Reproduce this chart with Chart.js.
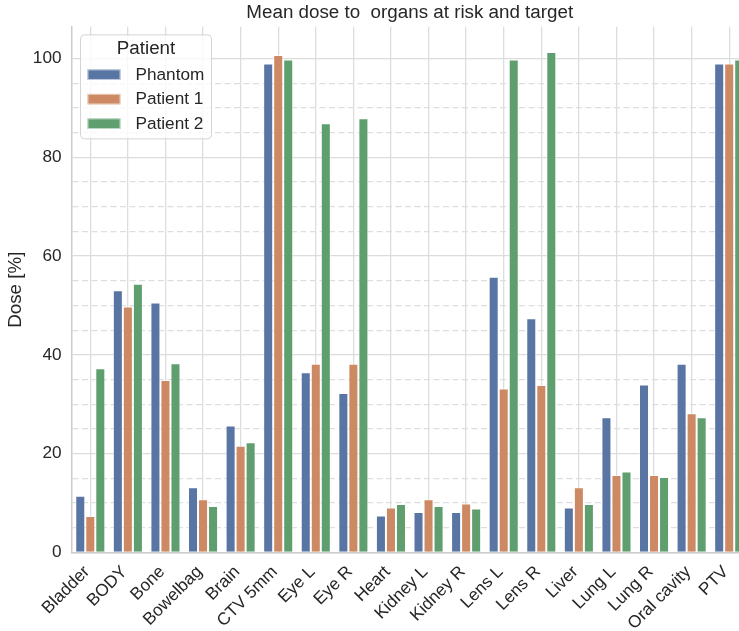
<!DOCTYPE html>
<html>
<head>
<meta charset="utf-8">
<title>Mean dose to organs at risk and target</title>
<script src="https://cdn.jsdelivr.net/npm/chart.js@4.4.1/dist/chart.umd.min.js"></script>
<style>
  html, body { margin: 0; padding: 0; background: #ffffff; overflow: hidden; }
  #wrap { width: 739px; height: 631px; overflow: hidden; position: relative; }
  canvas { display: block; }
</style>
</head>
<body>
<div id="wrap"><canvas id="doseChart" width="760" height="631"></canvas></div>
<script>
// Structures (x categories)
const categories = ['Bladder', 'BODY', 'Bone', 'Bowelbag', 'Brain', 'CTV 5mm', 'Eye L', 'Eye R',
  'Heart', 'Kidney L', 'Kidney R', 'Lens L', 'Lens R', 'Liver', 'Lung L', 'Lung R', 'Oral cavity', 'PTV'];

// Mean dose per structure, % of prescription
const phantom  = [11.5, 53.1, 50.6, 13.2, 25.7, 99.0, 36.5, 32.3, 7.5, 8.2, 8.2, 55.8, 47.4, 9.1, 27.4, 34.0, 38.2, 99.0];
const patient1 = [7.4, 49.8, 34.9, 10.8, 21.6, 100.7, 38.2, 38.2, 9.1, 10.8, 9.9, 33.2, 33.9, 13.2, 15.7, 15.7, 28.2, 99.0];
const patient2 = [37.3, 54.4, 38.3, 9.4, 22.3, 99.8, 86.9, 87.9, 9.8, 9.4, 8.9, 99.8, 101.3, 9.8, 16.4, 15.3, 27.4, 99.8];

const seriesNames = ['Phantom', 'Patient 1', 'Patient 2'];
const seriesColors = ['#5975a4', '#cc8963', '#5f9e6e'];
const legendTitle = 'Patient';

// Labelled y ticks every 20, light dashed helper lines every 5
const yLabelStep = 20;
const yGridStep = 5;
const yMax = 106.4;

const FONT = '"Liberation Sans", Arial, Helvetica, sans-serif';
const TEXT = '#262626';
const TICK_SIZE = 17.2;
const LABEL_SIZE = 18.8;

// Framed legend drawn inside the plot area, upper left
const boxLegend = {
  id: 'boxLegend',
  afterDatasetsDraw(chart) {
    const { ctx, chartArea } = chart;
    const x = chartArea.left + 9, y = chartArea.top + 8, w = 131, h = 104, r = 4;
    ctx.save();
    ctx.beginPath();
    ctx.moveTo(x + r, y);
    ctx.lineTo(x + w - r, y);
    ctx.arcTo(x + w, y, x + w, y + r, r);
    ctx.lineTo(x + w, y + h - r);
    ctx.arcTo(x + w, y + h, x + w - r, y + h, r);
    ctx.lineTo(x + r, y + h);
    ctx.arcTo(x, y + h, x, y + h - r, r);
    ctx.lineTo(x, y + r);
    ctx.arcTo(x, y, x + r, y, r);
    ctx.closePath();
    ctx.fillStyle = 'rgba(255,255,255,0.8)';
    ctx.fill();
    ctx.strokeStyle = '#d4d4d4';
    ctx.lineWidth = 1;
    ctx.stroke();

    ctx.fillStyle = TEXT;
    ctx.font = LABEL_SIZE + 'px ' + FONT;
    ctx.textAlign = 'center';
    ctx.textBaseline = 'middle';
    ctx.fillText(legendTitle, x + w / 2, y + 14);

    ctx.font = TICK_SIZE + 'px ' + FONT;
    ctx.textAlign = 'left';
    chart.data.datasets.forEach((ds, i) => {
      const cy = y + 39.8 + i * 24.5;
      ctx.fillStyle = ds.backgroundColor;
      ctx.fillRect(x + 7, cy - 5.3, 33, 10.6);
      ctx.strokeStyle = 'rgba(255,255,255,0.6)';
      ctx.strokeRect(x + 7.5, cy - 4.8, 32, 9.6);
      ctx.fillStyle = TEXT;
      ctx.fillText(ds.label, x + 55, cy + 0.5);
    });
    ctx.restore();
  }
};

const seriesValues = [phantom, patient1, patient2];

new Chart(document.getElementById('doseChart'), {
  type: 'bar',
  data: {
    labels: categories,
    datasets: seriesNames.map((name, i) => ({
      label: name,
      data: seriesValues[i],
      backgroundColor: seriesColors[i],
      borderColor: 'rgba(255,255,255,0.55)',
      borderWidth: 1,
      categoryPercentage: 0.8,
      barPercentage: 1.0
    }))
  },
  options: {
    responsive: false,
    animation: false,
    devicePixelRatio: 1,
    layout: { padding: { top: 0, right: 12, left: 0, bottom: 0 } },
    plugins: {
      legend: { display: false },
      tooltip: { enabled: false },
      title: {
        display: true,
        fullSize: false,
        text: 'Mean dose to  organs at risk and target',
        color: TEXT,
        font: { family: FONT, size: LABEL_SIZE, weight: 'normal', lineHeight: 1.2 },
        padding: { top: 1.5, bottom: 2.8 }
      }
    },
    scales: {
      x: {
        offset: true,
        grid: { offset: false, color: '#dddddd', lineWidth: 1.3, drawTicks: false },
        border: { display: true, color: '#cccccc', width: 1.5 },
        ticks: {
          autoSkip: false, minRotation: 45, maxRotation: 45, padding: 6,
          color: TEXT, font: { family: FONT, size: TICK_SIZE },
          // trailing space keeps the rotated label's end just short of its tick
          callback(value) { return this.getLabelForValue(value) + ' '; }
        },
        afterFit(scale) { scale.height = 78.5; }
      },
      y: {
        min: 0,
        max: yMax,
        afterBuildTicks(scale) {
          scale.ticks = scale.ticks.filter(t => Math.abs(t.value % yGridStep) < 1e-9);
        },
        ticks: {
          stepSize: yGridStep, autoSkip: false, padding: 10,
          color: TEXT, font: { family: FONT, size: TICK_SIZE },
          callback: v => (v % yLabelStep === 0 ? String(v) : '')
        },
        grid: {
          drawTicks: false,
          color: c => (c.tick && c.tick.value % yLabelStep !== 0) ? '#dedede' : '#dcdcdc',
          lineWidth: c => (c.tick && c.tick.value % yLabelStep !== 0) ? 1.2 : 1.3
        },
        border: {
          display: true, color: '#cccccc', width: 1.5,
          dash: c => (c.tick && c.tick.value % yLabelStep !== 0) ? [6, 3.5] : []
        },
        title: {
          display: true, text: 'Dose [%]', color: TEXT,
          font: { family: FONT, size: LABEL_SIZE, weight: 'normal' },
          padding: { top: 5, bottom: 0 }
        },
        afterFit(scale) { scale.width = 71.5; }
      }
    }
  },
  plugins: [boxLegend]
});
</script>
</body>
</html>
